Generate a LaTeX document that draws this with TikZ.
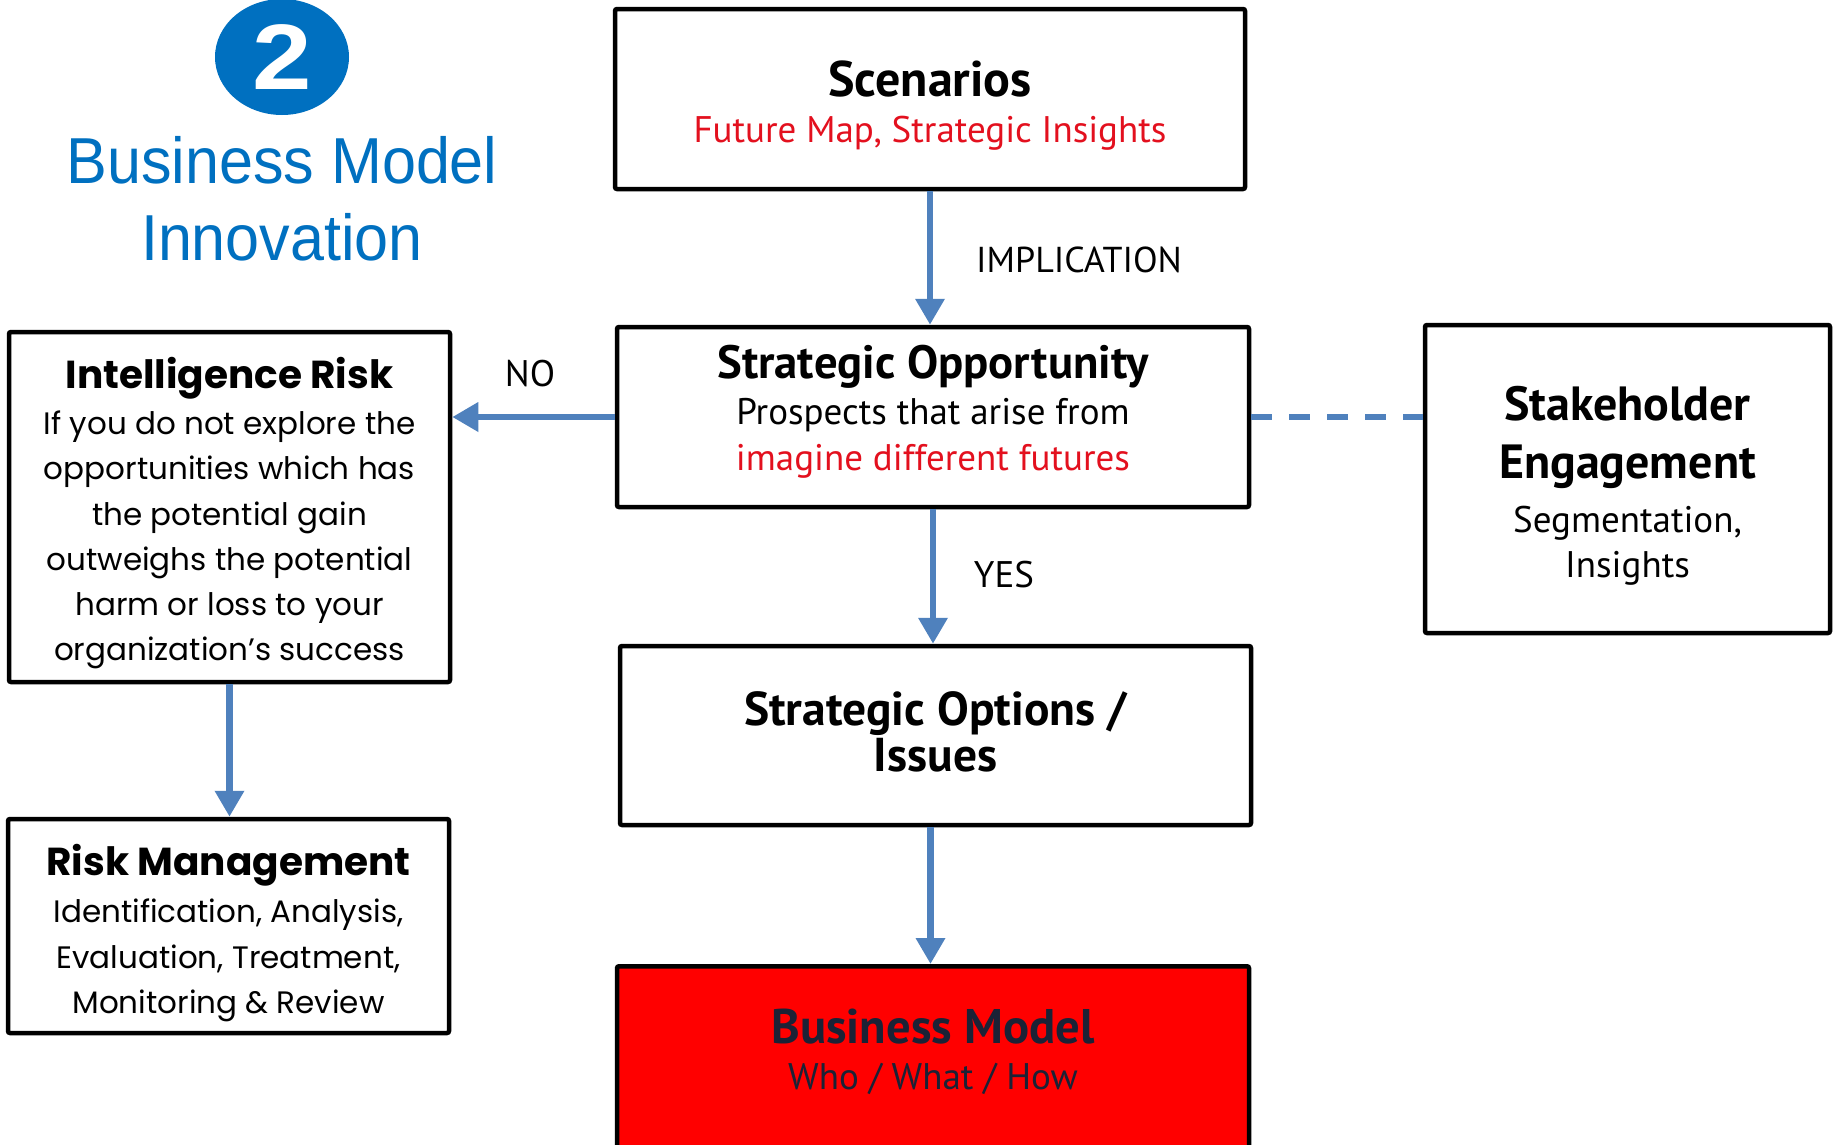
\documentclass[tikz,border=0pt]{standalone}
\usepackage{fontspec}
\setmainfont{PT Sans}
\newfontfamily\cond{PT Sans}
\newfontfamily\geo{Poppins}
\newfontfamily\arialtitle[FakeStretch=0.94]{Liberation Sans}
\newfontfamily\arialwide[FakeStretch=1.15]{Liberation Sans}
\usetikzlibrary{arrows.meta,calc,shapes.geometric}
\definecolor{arrowblue}{HTML}{4F81BD}
\definecolor{titleblue}{HTML}{0070C0}
\definecolor{redtxt}{HTML}{E3101E}
\definecolor{bmred}{HTML}{FF0000}
\definecolor{navytxt}{HTML}{1B2236}
\tikzset{
  box/.style={draw=black, line width=4.5pt, rounded corners=2pt, inner sep=0pt, fill=white},
  boxtext/.style={align=center, inner sep=0pt},
  flow/.style={draw=arrowblue, line width=6.5pt, -{Triangle[width=28pt,length=26pt]}},
  dashlink/.style={draw=arrowblue, line width=5.5pt, dash pattern=on 21pt off 17pt},
  lbl/.style={font=\cond\fontsize{37}{37}\selectfont, text=black, inner sep=0pt},
}
\begin{document}
\begin{tikzpicture}[x=1pt,y=-1pt]
\clip (0,0) rectangle (1837,1144);
\fill[white] (0,0) rectangle (1837,1144);

% badge and title
\node[ellipse, fill=titleblue, minimum width=134pt, minimum height=116pt, inner sep=0pt] (badge) at (282,57)
  {\arialwide\bfseries\fontsize{93}{93}\selectfont\color{white}2};
\node[text=titleblue, font=\arialtitle\fontsize{65}{77}\selectfont, align=center, inner sep=0pt] (bmi) at (282,199)
  {Business Model\\Innovation};

% boxes
\node[box, minimum width=630pt, minimum height=180pt] (scen) at (930,99) {};
\node[box, minimum width=632pt, minimum height=180pt] (opp) at (933,417) {};
\node[box, minimum width=631pt, minimum height=179pt] (opts) at (935.5,735.5) {};
\node[box, fill=bmred, minimum width=632pt, minimum height=260pt, anchor=north] (bm) at (933,964) {};
\node[box, minimum width=405pt, minimum height=308pt] (stake) at (1627.5,479) {};
\node[box, minimum width=441pt, minimum height=350pt] (intel) at (229.5,507) {};
\node[box, minimum width=441pt, minimum height=214pt] (risk) at (228.5,926) {};

% box texts
\node[boxtext, font=\cond\fontsize{37}{45.5}\selectfont] (scentxt) at ($(scen)+(0,6.5)$)
  {{\bfseries\fontsize{50}{45.5}\selectfont Scenarios}\\{\color{redtxt}Future Map, Strategic Insights}};
\node[boxtext, font=\cond\fontsize{37}{46}\selectfont] (opptxt) at ($(opp)+(0,-5)$)
  {{\bfseries\fontsize{46.7}{46}\selectfont Strategic Opportunity}\\Prospects that arise from\\{\color{redtxt}imagine different futures}};
\node[boxtext, font=\cond\bfseries\fontsize{47.5}{46}\selectfont] (optstxt) at ($(opts)+(0,-3.5)$)
  {Strategic Options /\\Issues};
\node[boxtext, font=\cond\fontsize{37}{46}\selectfont, text=navytxt] (bmtext) at (933,1052)
  {{\bfseries\fontsize{48.6}{46}\selectfont Business Model}\\Who / What / How};
\node[boxtext, font=\cond\fontsize{37}{45}\selectfont] (staketxt) at ($(stake)+(0,7)$)
  {{\bfseries\fontsize{48}{45}\selectfont Stakeholder}\\[13pt]{\bfseries\fontsize{48}{45}\selectfont Engagement}\\[9pt]Segmentation,\\Insights};
\node[boxtext, font=\geo\fontsize{31}{45.2}\selectfont] (inteltxt) at ($(intel)+(0,6)$)
  {{\bfseries\fontsize{39}{45}\selectfont Intelligence Risk}\\[1.5pt]If you do not explore the\\opportunities which has\\the potential gain\\outweighs the potential\\harm or loss to your\\organization’s success};
\node[boxtext, font=\geo\fontsize{31}{45.5}\selectfont] (risktxt) at ($(risk)+(0,7.5)$)
  {{\bfseries\fontsize{39}{45}\selectfont Risk Management}\\[1.5pt]Identification, Analysis,\\Evaluation, Treatment,\\Monitoring \& Review};

% connectors
\draw[flow] (scen.south) -- (scen.south |- opp.north);
\draw[flow] (opp.south) -- (opp.south |- opts.north);
\draw[flow] ([xshift=-5pt]opts.south) -- ([xshift=-5pt]opts.south |- bm.north);
\draw[flow] (opp.west) -- (opp.west -| intel.east);
\draw[flow] (intel.south) -- (intel.south |- risk.north);
\draw[dashlink] (opp.east) -- (opp.east -| stake.west);

% labels
\node[lbl, font=\cond\fontsize{36}{36}\selectfont, anchor=west] (impl) at (976,260) {IMPLICATION};
\node[lbl] (no) at (530,374) {NO};
\node[lbl] (yes) at (1004,575) {YES};
\end{tikzpicture}
\end{document}
